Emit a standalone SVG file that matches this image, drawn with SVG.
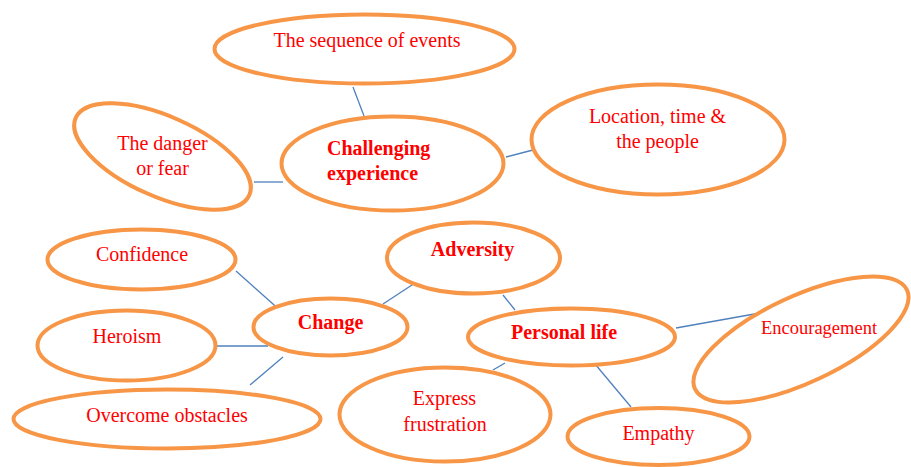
<svg xmlns="http://www.w3.org/2000/svg" width="911" height="467" viewBox="0 0 911 467">
  <style>
    .node { fill: #FFFFFF; stroke: #F79646; stroke-width: 4; }
    .label { font-family: "Liberation Serif", "Times New Roman", serif; font-size: 20px; fill: #FF0000; text-anchor: middle; }
    .bold { font-weight: bold; }
    .small { font-size: 18.5px; }
    .link { stroke: #4F81BD; stroke-width: 1.3; fill: none; }
  </style>
  <rect width="911" height="467" fill="#FFFFFF"/>

  <!-- connectors -->
  <g id="connectors">
    <line class="link" x1="353" y1="87" x2="364" y2="116"/>
    <line class="link" x1="254" y1="182" x2="283" y2="182"/>
    <line class="link" x1="506" y1="157" x2="533" y2="150"/>
    <line class="link" x1="236" y1="271" x2="282" y2="312"/>
    <line class="link" x1="217" y1="346" x2="268" y2="346"/>
    <line class="link" x1="250" y1="385" x2="283" y2="357"/>
    <line class="link" x1="383" y1="304" x2="415" y2="283"/>
    <line class="link" x1="503" y1="295" x2="515" y2="310"/>
    <line class="link" x1="505" y1="363" x2="493" y2="370"/>
    <line class="link" x1="595" y1="364" x2="631" y2="407"/>
    <line class="link" x1="676" y1="328" x2="760" y2="313"/>
  </g>

  <!-- top cluster -->
  <g id="sequence">
    <ellipse class="node" cx="364.5" cy="49" rx="150" ry="34.5"/>
    <text class="label" x="367" y="47">The sequence of events</text>
  </g>
  <g id="danger">
    <ellipse class="node" cx="162.5" cy="156.5" rx="95" ry="40" transform="rotate(24 162.5 156.5)"/>
    <text class="label" x="162.5" y="150">The danger</text>
    <text class="label" x="162.5" y="175">or fear</text>
  </g>
  <g id="challenging">
    <ellipse class="node" cx="392.5" cy="163.5" rx="111" ry="47"/>
    <text class="label bold" x="327" y="155" style="text-anchor:start">Challenging</text>
    <text class="label bold" x="327" y="180" style="text-anchor:start">experience</text>
  </g>
  <g id="location">
    <ellipse class="node" cx="658" cy="139.5" rx="126.5" ry="55"/>
    <text class="label" x="657.5" y="123">Location, time &amp;</text>
    <text class="label" x="657.5" y="148">the people</text>
  </g>

  <!-- change cluster -->
  <g id="confidence">
    <ellipse class="node" cx="141.5" cy="259.5" rx="94" ry="30"/>
    <text class="label" x="142" y="261">Confidence</text>
  </g>
  <g id="heroism">
    <ellipse class="node" cx="126.5" cy="345.5" rx="89" ry="35"/>
    <text class="label" x="127" y="343">Heroism</text>
  </g>
  <g id="obstacles">
    <ellipse class="node" cx="167" cy="419" rx="153.5" ry="29.5"/>
    <text class="label" x="167" y="422">Overcome obstacles</text>
  </g>
  <g id="change">
    <ellipse class="node" cx="330.5" cy="327" rx="77" ry="28.5"/>
    <text class="label bold" x="330.5" y="329">Change</text>
  </g>

  <!-- personal life cluster -->
  <g id="adversity">
    <ellipse class="node" cx="473.5" cy="258" rx="86.5" ry="35.5"/>
    <text class="label bold" x="472.5" y="256">Adversity</text>
  </g>
  <g id="personal">
    <ellipse class="node" cx="571.5" cy="337" rx="103.5" ry="28.5"/>
    <text class="label bold" x="564" y="339">Personal life</text>
  </g>
  <g id="express">
    <ellipse class="node" cx="445" cy="414.5" rx="105.5" ry="47"/>
    <text class="label" x="444.5" y="405">Express</text>
    <text class="label" x="445" y="431">frustration</text>
  </g>
  <g id="empathy">
    <ellipse class="node" cx="658.5" cy="436.5" rx="91" ry="28.5"/>
    <text class="label" x="658.5" y="440">Empathy</text>
  </g>
  <g id="encouragement">
    <ellipse class="node" cx="801" cy="339.5" rx="117" ry="43" transform="rotate(-25 801 339.5)"/>
    <text class="label small" x="819" y="334">Encouragement</text>
  </g>
</svg>
